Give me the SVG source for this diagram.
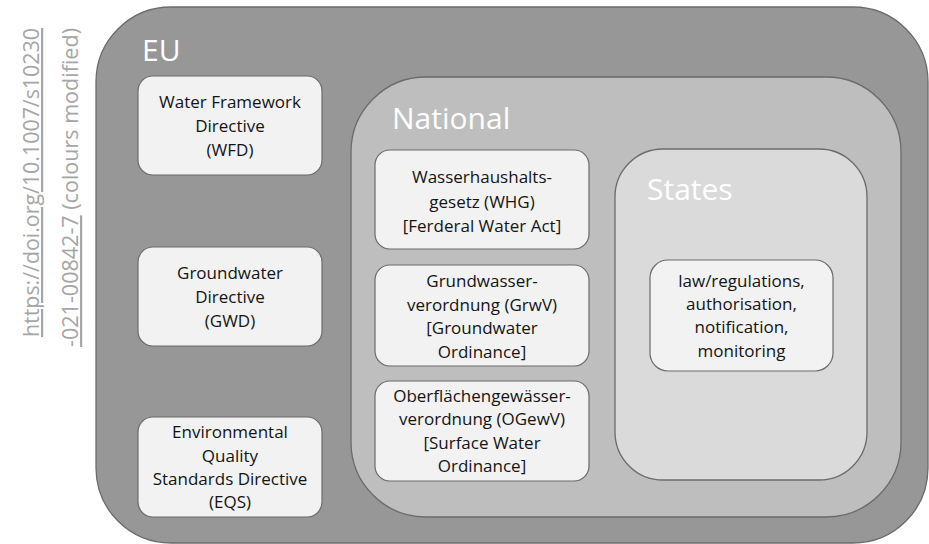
<svg xmlns="http://www.w3.org/2000/svg" width="929" height="544" viewBox="0 0 929 544">
<style>
.frame{stroke:#6b6b6b;stroke-width:1.3}
.node rect{fill:#f2f2f2;stroke:#6b6b6b;stroke-width:1.2}
.node text{font-family:"Open Sans","Liberation Sans",sans-serif;font-size:17px;fill:#141414;text-anchor:middle}
.title{font-family:"Open Sans","Liberation Sans",sans-serif;font-size:30px;fill:#ffffff}
.cite{font-family:"Open Sans","Liberation Sans",sans-serif;font-size:22px;fill:#a6a6a6;text-anchor:end}
</style>
<rect width="929" height="544" fill="#ffffff"/>
<g id="citation">
<text class="cite" transform="translate(39,28) rotate(-90)" textLength="309" lengthAdjust="spacingAndGlyphs"><tspan text-decoration="underline">https://doi.org/10.1007/s10230</tspan></text>
<text class="cite" transform="translate(78,28) rotate(-90)" textLength="319" lengthAdjust="spacingAndGlyphs"><tspan text-decoration="underline">-021-00842-7</tspan> (colours modified)</text>
</g>
<g id="eu">
<rect class="frame" x="96" y="7" width="832" height="536" rx="75" fill="#979797"/>
<text class="title" x="142" y="61">EU</text>
</g>
<g id="national">
<rect class="frame" x="351" y="77" width="550" height="440" rx="75" fill="#bebebe"/>
<text class="title" x="392" y="129">National</text>
</g>
<g id="states">
<rect class="frame" x="615" y="149" width="252" height="331" rx="48" fill="#dadada"/>
<text class="title" x="647" y="200" fill="#f6f6f6">States</text>
</g>
<g id="wfd" class="node">
<rect x="138" y="76" width="184" height="99" rx="15"/>
<text x="230" y="108">Water Framework</text>
<text x="230" y="132">Directive</text>
<text x="230" y="156">(WFD)</text>
</g>
<g id="gwd" class="node">
<rect x="138" y="247" width="184" height="99" rx="15"/>
<text x="230" y="279">Groundwater</text>
<text x="230" y="303">Directive</text>
<text x="230" y="327">(GWD)</text>
</g>
<g id="eqs" class="node">
<rect x="138" y="417" width="184" height="100" rx="15"/>
<text x="230" y="438">Environmental</text>
<text x="230" y="462">Quality</text>
<text x="230" y="485">Standards Directive</text>
<text x="230" y="508">(EQS)</text>
</g>
<g id="whg" class="node">
<rect x="375" y="150" width="214" height="99" rx="15"/>
<text x="482" y="183">Wasserhaushalts-</text>
<text x="482" y="207.5">gesetz (WHG)</text>
<text x="482" y="232">[Ferderal Water Act]</text>
</g>
<g id="grwv" class="node">
<rect x="375" y="265" width="214" height="101" rx="15"/>
<text x="482" y="287">Grundwasser-</text>
<text x="482" y="310.5">verordnung (GrwV)</text>
<text x="482" y="334">[Groundwater</text>
<text x="482" y="357.5">Ordinance]</text>
</g>
<g id="ogewv" class="node">
<rect x="375" y="381" width="214" height="100" rx="15"/>
<text x="482" y="402">Oberflächengewässer-</text>
<text x="482" y="425">verordnung (OGewV)</text>
<text x="482" y="449">[Surface Water</text>
<text x="482" y="472">Ordinance]</text>
</g>
<g id="states-tasks" class="node">
<rect x="650" y="260" width="183" height="111" rx="18"/>
<text x="741.5" y="287">law/regulations,</text>
<text x="741.5" y="310">authorisation,</text>
<text x="741.5" y="333">notification,</text>
<text x="741.5" y="357">monitoring</text>
</g>
<g id="connectors"></g>
</svg>
